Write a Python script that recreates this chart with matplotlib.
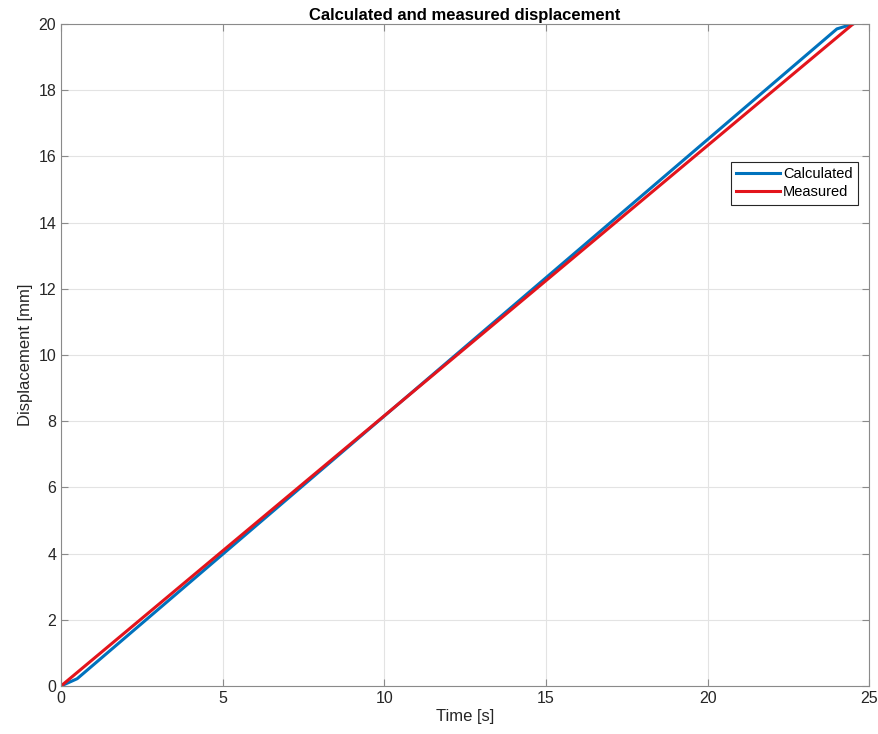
import numpy as np
import matplotlib
matplotlib.use('Agg')
import matplotlib.pyplot as plt

plt.rcParams['font.family'] = ['Liberation Sans', 'DejaVu Sans']

# time [s] and displacement [mm]
calc_t = [0.0, 0.5, 24.0, 24.5]
calc_d = [0.0, 0.22, 19.85, 20.0]
meas_t = [0.0, 24.5]
meas_d = [0.0, 20.0]

fig = plt.figure(figsize=(8.79, 7.34), dpi=100)
ax = fig.add_axes([0.0694, 0.0654, 0.9195, 0.902])

ax.plot(calc_t, calc_d, color='#0072BD', lw=2.2, label='Calculated')
ax.plot(meas_t, meas_d, color='#E3141C', lw=2.2, label='Measured')

ax.set_xlim(0, 25)
ax.set_ylim(0, 20)
ax.set_xticks(np.arange(0, 26, 5))
ax.set_yticks(np.arange(0, 21, 2))
ax.grid(True, color='#e3e3e3', lw=0.8)
ax.set_axisbelow(True)
for s in ax.spines.values():
    s.set_color('#8a8a8a')
ax.tick_params(direction='in', top=True, right=True, colors='#8a8a8a',
               labelcolor='#262626', labelsize=11.5, length=5)

ax.set_xlabel('Time [s]', fontsize=12, color='#262626', labelpad=2)
ax.set_ylabel('Displacement [mm]', fontsize=12, color='#262626', labelpad=4)
ax.set_title('Calculated and measured displacement', fontsize=12,
             fontweight='bold', pad=3)

leg = ax.legend(loc='upper right', bbox_to_anchor=(0.986, 0.7915), fontsize=10.5,
                fancybox=False, framealpha=1, edgecolor='#262626',
                borderpad=0.35, handlelength=3.0, handletextpad=0.25,
                labelspacing=0.3, borderaxespad=0)
leg.get_frame().set_linewidth(0.8)

fig.savefig('out.png')
